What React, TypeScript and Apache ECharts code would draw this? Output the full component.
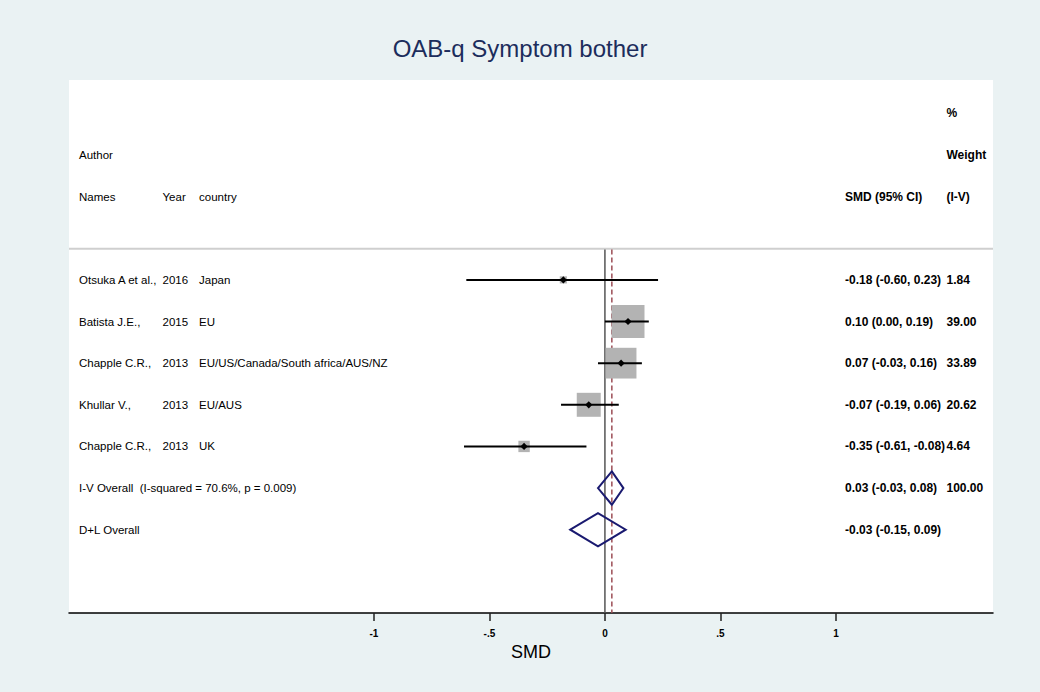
import React, { useEffect, useRef } from "react";
import * as echarts from "echarts";

// Individual studies (standardised mean difference with 95% CI, inverse-variance weight)
const studyAuthors = ["Otsuka A et al.,", "Batista J.E.,", "Chapple C.R.,", "Khullar V.,", "Chapple C.R.,"];
const studyYears = ["2016", "2015", "2013", "2013", "2013"];
const studyCountries = ["Japan", "EU", "EU/US/Canada/South africa/AUS/NZ", "EU/AUS", "UK"];
const studySmd = [-0.18, 0.1, 0.07, -0.07, -0.35];
const studyLower = [-0.6, 0.0, -0.03, -0.19, -0.61];
const studyUpper = [0.23, 0.19, 0.16, 0.06, -0.08];
const studyWeight = [1.84, 39.0, 33.89, 20.62, 4.64];
const studyRows = [8, 7, 6, 5, 4];

// Pooled estimates
const pooledLabels = ["I-V Overall  (I-squared = 70.6%, p = 0.009)", "D+L Overall"];
const pooledSmd = [0.03, -0.03];
const pooledLower = [-0.03, -0.15];
const pooledUpper = [0.08, 0.09];
const pooledWeight = ["100.00", ""];
const pooledRows = [3, 2];

// Column headers
const headerLeft = [
  { row: 11, cells: ["Author", "", ""] },
  { row: 10, cells: ["Names", "Year", "country"] },
];
const headerRight = [
  { row: 12, cells: ["", "%"] },
  { row: 11, cells: ["", "Weight"] },
  { row: 10, cells: ["SMD (95% CI)", "(I-V)"] },
];

// Axis
const xTicks = [-1, -0.5, 0, 0.5, 1];
const xTickLabels = ["-1", "-.5", "0", ".5", "1"];
const X_MIN = -2.32;
const X_MAX = 1.68;
const Y_MAX = 12.8;
const SEPARATOR_ROW = 8.75;

const FONT = "'Liberation Sans', Arial, Helvetica, sans-serif";
const COL_AUTHOR = 79;
const COL_YEAR = 162.5;
const COL_COUNTRY = 199;
const COL_SMD = 845;
const COL_WEIGHT = 946.5;
const BOX_SCALE = 5.28;

const fmt = (v: number) => v.toFixed(2);

type TextItem = { row: number; x: number; text: string; bold?: boolean };

function buildTexts(): TextItem[] {
  const out: TextItem[] = [];
  const leftCols = [COL_AUTHOR, COL_YEAR, COL_COUNTRY];
  const rightCols = [COL_SMD, COL_WEIGHT];
  headerLeft.forEach((h) =>
    h.cells.forEach((c, i) => c && out.push({ row: h.row, x: leftCols[i], text: c }))
  );
  headerRight.forEach((h) =>
    h.cells.forEach((c, i) => c && out.push({ row: h.row, x: rightCols[i], text: c, bold: true }))
  );
  studyRows.forEach((row, i) => {
    out.push({ row, x: COL_AUTHOR, text: studyAuthors[i] });
    out.push({ row, x: COL_YEAR, text: studyYears[i] });
    out.push({ row, x: COL_COUNTRY, text: studyCountries[i] });
    out.push({
      row,
      x: COL_SMD,
      text: `${fmt(studySmd[i])} (${fmt(studyLower[i])}, ${fmt(studyUpper[i])})`,
      bold: true,
    });
    out.push({ row, x: COL_WEIGHT, text: fmt(studyWeight[i]), bold: true });
  });
  pooledRows.forEach((row, i) => {
    out.push({ row, x: COL_AUTHOR, text: pooledLabels[i] });
    out.push({
      row,
      x: COL_SMD,
      text: `${fmt(pooledSmd[i])} (${fmt(pooledLower[i])}, ${fmt(pooledUpper[i])})`,
      bold: true,
    });
    if (pooledWeight[i]) out.push({ row, x: COL_WEIGHT, text: pooledWeight[i], bold: true });
  });
  return out;
}

export default function App() {
  const ref = useRef<HTMLDivElement>(null);

  useEffect(() => {
    document.body.style.margin = "0";
    if (!ref.current) return;
    const chart = echarts.init(ref.current, undefined, { renderer: "svg" });
    const texts = buildTexts();

    const studyData = studyRows.map((row, i) => [
      studySmd[i],
      studyLower[i],
      studyUpper[i],
      studyWeight[i],
      row,
    ]);
    const pooledData = pooledRows.map((row, i) => [pooledSmd[i], pooledLower[i], pooledUpper[i], row]);

    chart.setOption({
      animation: false,
      backgroundColor: "#EAF2F3",
      title: {
        text: "OAB-q Symptom bother",
        left: "center",
        top: 31,
        textStyle: { fontSize: 24, fontWeight: "normal", color: "#1c2d5c", fontFamily: FONT },
      },
      grid: {
        left: 69,
        right: 47,
        top: 80,
        bottom: 79,
        show: true,
        backgroundColor: "#ffffff",
        borderWidth: 0,
      },
      xAxis: {
        type: "value",
        min: X_MIN,
        max: X_MAX,
        name: "SMD",
        nameLocation: "middle",
        nameGap: 29,
        nameTextStyle: { fontSize: 18, color: "#000", fontFamily: FONT },
        splitLine: { show: false },
        axisLine: { show: true, onZero: false, lineStyle: { color: "#000", width: 1.5 } },
        axisTick: {
          show: true,
          customValues: xTicks,
          length: 8,
          lineStyle: { color: "#222", width: 1.5 },
        },
        axisLabel: {
          customValues: xTicks,
          margin: 15,
          fontSize: 10,
          fontWeight: "bold",
          color: "#000",
          fontFamily: FONT,
          formatter: (v: number) => {
            const idx = xTicks.findIndex((t) => Math.abs(t - v) < 1e-9);
            return idx >= 0 ? xTickLabels[idx] : "";
          },
        },
      },
      yAxis: {
        type: "value",
        min: 0,
        max: Y_MAX,
        show: false,
        splitLine: { show: false },
      },
      series: [
        // header separator
        {
          type: "line",
          data: [
            [X_MIN, SEPARATOR_ROW],
            [X_MAX, SEPARATOR_ROW],
          ],
          symbol: "none",
          silent: true,
          lineStyle: { color: "#cfcfcf", width: 2 },
          z: 1,
        },
        // null line
        {
          type: "line",
          data: [
            [0, SEPARATOR_ROW - 0.02],
            [0, 0],
          ],
          symbol: "none",
          silent: true,
          lineStyle: { color: "#555555", width: 1.5 },
          z: 2,
        },
        // pooled (I-V) estimate line
        {
          type: "line",
          data: [
            [pooledSmd[0], SEPARATOR_ROW - 0.02],
            [pooledSmd[0], 0],
          ],
          symbol: "none",
          silent: true,
          lineStyle: { color: "#9c4d55", width: 1.5, type: [5, 3] },
          z: 2,
        },
        // study boxes, CIs and points
        {
          type: "custom",
          data: studyData,
          silent: true,
          z: 3,
          renderItem: (params: any, api: any) => {
            const est = api.value(0);
            const lo = api.value(1);
            const hi = api.value(2);
            const w = api.value(3);
            const row = api.value(4);
            const c = api.coord([est, row]);
            const l = api.coord([lo, row]);
            const h = api.coord([hi, row]);
            const side = BOX_SCALE * Math.sqrt(w);
            const d = 3.6;
            return {
              type: "group",
              children: [
                {
                  type: "rect",
                  shape: { x: c[0] - side / 2, y: c[1] - side / 2, width: side, height: side },
                  style: { fill: "#b3b3b3" },
                },
                {
                  type: "line",
                  shape: { x1: l[0], y1: l[1], x2: h[0], y2: h[1] },
                  style: { stroke: "#000", lineWidth: 2 },
                },
                {
                  type: "polygon",
                  shape: {
                    points: [
                      [c[0] - d, c[1]],
                      [c[0], c[1] - d],
                      [c[0] + d, c[1]],
                      [c[0], c[1] + d],
                    ],
                  },
                  style: { fill: "#000" },
                },
              ],
            };
          },
        },
        // pooled diamonds
        {
          type: "custom",
          data: pooledData,
          silent: true,
          z: 4,
          renderItem: (params: any, api: any) => {
            const est = api.value(0);
            const lo = api.value(1);
            const hi = api.value(2);
            const row = api.value(3);
            const pts = [
              api.coord([lo, row]),
              api.coord([est, row + 0.4]),
              api.coord([hi, row]),
              api.coord([est, row - 0.4]),
            ];
            return {
              type: "polygon",
              shape: { points: pts },
              style: { fill: "none", stroke: "#1a1a70", lineWidth: 2 },
            };
          },
        },
        // table text
        {
          type: "custom",
          data: texts.map((t) => [0, t.row]),
          silent: true,
          z: 5,
          clip: false,
          renderItem: (params: any, api: any) => {
            const t = texts[params.dataIndex];
            const y = api.coord([0, api.value(1)])[1];
            return {
              type: "text",
              x: t.x,
              y,
              style: {
                text: t.text,
                fill: "#000",
                fontSize: t.bold ? 12 : 11.5,
                fontFamily: FONT,
                fontWeight: t.bold ? "bold" : "normal",
                align: "left",
                verticalAlign: "middle",
              },
            };
          },
        },
      ],
    });

    return () => chart.dispose();
  }, []);

  return <div ref={ref} style={{ width: 1040, height: 692 }} />;
}
